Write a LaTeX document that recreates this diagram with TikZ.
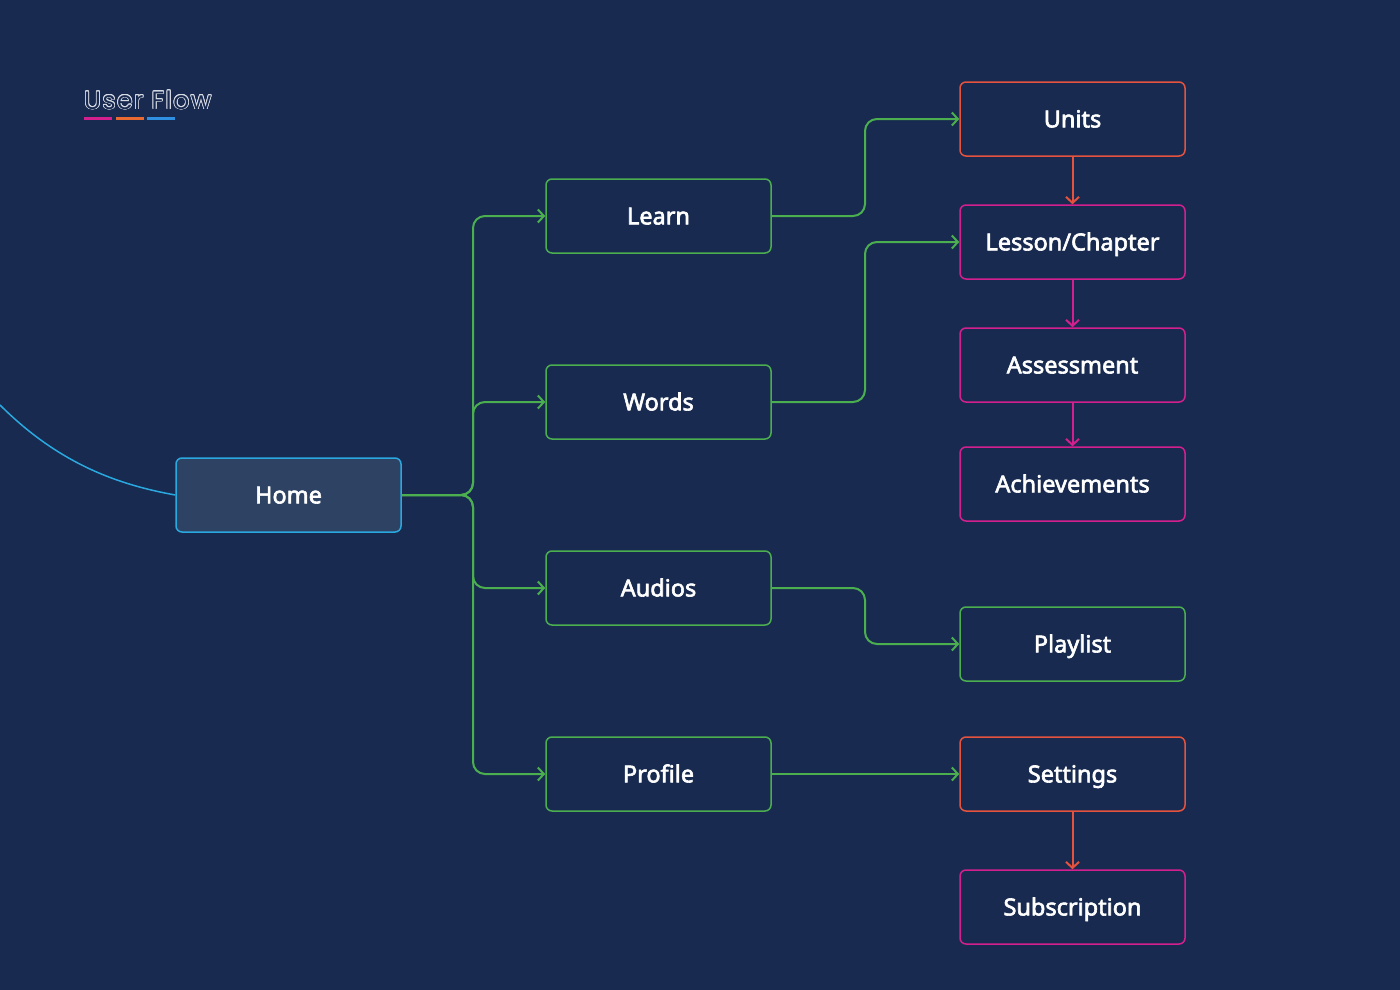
\documentclass[tikz,border=0pt]{standalone}
\usepackage{fontspec}
\setmainfont{Noto Sans}
\newfontfamily\labelfont{Noto Sans}[FakeBold=2.6]
\newfontfamily\titlefont{Poppins}[LetterSpace=6]
\usetikzlibrary{arrows.meta,calc}
\definecolor{bg}{HTML}{182A4F}
\definecolor{grn}{HTML}{4BAF50}
\definecolor{rd}{HTML}{E5533F}
\definecolor{mag}{HTML}{D4208E}
\definecolor{cy}{HTML}{2AA8E0}
\definecolor{homefill}{HTML}{2E4263}
\definecolor{bluebar}{HTML}{2F8FE0}
\definecolor{orbar}{HTML}{E86A32}
\definecolor{ttl}{HTML}{D8DCE6}
\tikzset{
  box/.style={draw, line width=1.5pt, rounded corners=6pt, minimum width=225pt, minimum height=74pt,
    inner sep=0pt, text height=16.8pt, text depth=0pt, text=white, font=\labelfont\fontsize{23.5}{27}\selectfont},
  gbox/.style={box, draw=grn},
  rbox/.style={box, draw=rd},
  mbox/.style={box, draw=mag},
  hbox/.style={box, draw=cy, fill=homefill},
  conn/.style={line width=2pt, rounded corners=12pt, -{Straight Barb[length=6pt,width=13pt,line width=2pt]}},
  gconn/.style={conn, draw=grn},
  rconn/.style={conn, draw=rd},
  mconn/.style={conn, draw=mag},
  ttlstyle/.style={font=\titlefont\fontsize{25}{28}\selectfont, anchor=west, inner sep=0pt},
}
\begin{document}
\begin{tikzpicture}[x=1pt,y=-1pt]
\fill[bg] (0,0) rectangle (1400,990);
\useasboundingbox (0,0) rectangle (1400,990);
% title
\foreach \a in {0,22.5,...,359}{
  \node[ttlstyle, text=ttl] at ($(84,100)+(\a:0.8)$) {User Flow};
}
\node[ttlstyle, text=bg] (title) at (84,100) {User Flow};
\draw[mag, line width=3pt] (84,118) -- (112,118);
\draw[orbar, line width=3pt] (116,118) -- (144,118);
\draw[bluebar, line width=3pt] (147,118) -- (175,118);
% nodes
\node[hbox] (home) at (288.5,495) {Home};
\node[gbox] (learn) at (658.5,216) {Learn};
\node[gbox] (words) at (658.5,402) {Words};
\node[gbox] (audios) at (658.5,588) {Audios};
\node[gbox] (profile) at (658.5,774) {Profile};
\node[rbox] (units) at (1072.5,119) {Units};
\node[mbox] (lesson) at (1072.5,242) {Lesson/Chapter};
\node[mbox] (assess) at (1072.5,365) {Assessment};
\node[mbox] (achieve) at (1072.5,484) {Achievements};
\node[gbox] (playlist) at (1072.5,644) {Playlist};
\node[rbox] (settings) at (1072.5,774) {Settings};
\node[mbox] (subs) at (1072.5,907) {Subscription};
% incoming curve
\coordinate (cstart) at (0,405);
\draw[cy, line width=1.5pt] (cstart) .. controls (60,465) and (120,485) .. (home.west);
% connectors
\coordinate (hj) at (473,495);
\draw[gconn] (home.east) -- (hj) |- (learn.west);
\draw[gconn] (home.east) -- (hj) |- (words.west);
\draw[gconn] (home.east) -- (hj) |- (audios.west);
\draw[gconn] (home.east) -- (hj) |- (profile.west);
\draw[gconn] (learn.east) -- (865,216) |- (units.west);
\draw[gconn] (words.east) -- (865,402) |- (lesson.west);
\draw[gconn] (audios.east) -- (865,588) |- (playlist.west);
\draw[gconn] (profile.east) -- (settings.west);
\draw[rconn] (units.south) -- (lesson.north);
\draw[mconn] (lesson.south) -- (assess.north);
\draw[mconn] (assess.south) -- (achieve.north);
\draw[rconn] (settings.south) -- (subs.north);
\end{tikzpicture}
\end{document}
